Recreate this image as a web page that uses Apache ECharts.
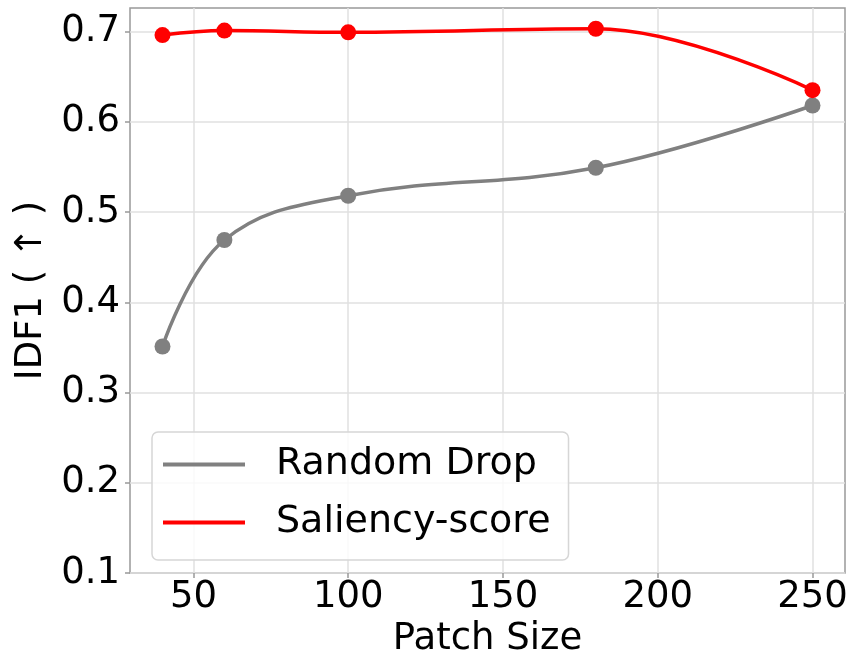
<!DOCTYPE html>
<html>
<head>
<meta charset="utf-8">
<script src="https://cdn.jsdelivr.net/npm/echarts@6/dist/echarts.min.js"></script>
<style>
  html, body { margin: 0; padding: 0; background: #fff; }
  #chart { width: 853px; height: 663px; }
</style>
</head>
<body>
<div id="chart"></div>
<script>
// patch sizes on the x axis
const patchSizes = [40, 60, 100, 180, 250];
// IDF1 values
const randomDrop = [0.351, 0.469, 0.518, 0.549, 0.618];
const saliencyScore = [0.696, 0.701, 0.699, 0.703, 0.635];
const xTicks = [50, 100, 150, 200, 250];
const yTicks = [0.1, 0.2, 0.3, 0.4, 0.5, 0.6, 0.7];

const FONT = 'DejaVu Sans';

function pairs(xs, ys) {
  return xs.map((x, i) => [x, ys[i]]);
}

let chartDom = document.getElementById('chart');
let myChart = echarts.init(chartDom);
let option;

option = {
  animation: false,
  textStyle: { fontFamily: FONT, color: '#000' },
  grid: {
    left: 130,
    right: 8,
    top: 8,
    bottom: 84,
    show: true,
    borderColor: '#999',
    borderWidth: 1.5,
    backgroundColor: 'transparent'
  },
  legend: {
    left: 152,
    top: 432,
    orient: 'vertical',
    itemWidth: 82,
    itemHeight: 4,
    itemGap: 17,
    padding: [12, 18, 17, 11],
    backgroundColor: 'rgba(255,255,255,0.8)',
    borderColor: '#d6d6d6',
    borderWidth: 1.5,
    borderRadius: 6,
    textStyle: {
      fontFamily: FONT,
      fontSize: 38,
      lineHeight: 41,
      color: '#000',
      padding: [0, 0, 0, 26]
    },
    data: [
      { name: 'Random Drop', icon: 'rect' },
      { name: 'Saliency-score', icon: 'rect' }
    ]
  },
  xAxis: {
    type: 'value',
    min: 29.5,
    max: 260.5,
    name: 'Patch Size',
    nameLocation: 'middle',
    nameGap: 45,
    nameTextStyle: { fontFamily: FONT, fontSize: 37, color: '#000' },
    axisLine: { show: false },
    axisTick: {
      show: true, length: 5, inside: false,
      lineStyle: { color: '#999', width: 1.5 },
      customValues: xTicks
    },
    axisLabel: {
      fontFamily: FONT, fontSize: 37, color: '#000', margin: 6,
      customValues: xTicks,
      formatter: v => String(v)
    },
    splitLine: { show: true, lineStyle: { color: '#e0e0e0', width: 1.5 } }
  },
  yAxis: {
    type: 'value',
    min: 0.1,
    max: 0.726,
    interval: 0.1,
    name: 'IDF1 ( \u2191 )',
    nameLocation: 'middle',
    nameGap: 80,
    nameRotate: 90,
    nameTextStyle: { fontFamily: FONT, fontSize: 37, color: '#000' },
    axisLine: { show: false },
    axisTick: {
      show: true, length: 5,
      lineStyle: { color: '#999', width: 1.5 },
      customValues: yTicks
    },
    axisLabel: {
      fontFamily: FONT, fontSize: 37, color: '#000', margin: 10,
      customValues: yTicks,
      formatter: v => v.toFixed(1)
    },
    splitLine: { show: true, lineStyle: { color: '#e0e0e0', width: 1.5 } }
  },
  series: [
    {
      name: 'Random Drop',
      type: 'line',
      smooth: 0.4,
      data: pairs(patchSizes, randomDrop),
      symbol: 'circle',
      symbolSize: 16,
      color: '#808080',
      lineStyle: { width: 3.5, color: '#808080' },
      itemStyle: { color: '#808080' }
    },
    {
      name: 'Saliency-score',
      type: 'line',
      smooth: 0.4,
      data: pairs(patchSizes, saliencyScore),
      symbol: 'circle',
      symbolSize: 16,
      color: '#ff0000',
      lineStyle: { width: 3.5, color: '#ff0000' },
      itemStyle: { color: '#ff0000' }
    }
  ]
};
myChart.setOption(option);
</script>
</body>
</html>
